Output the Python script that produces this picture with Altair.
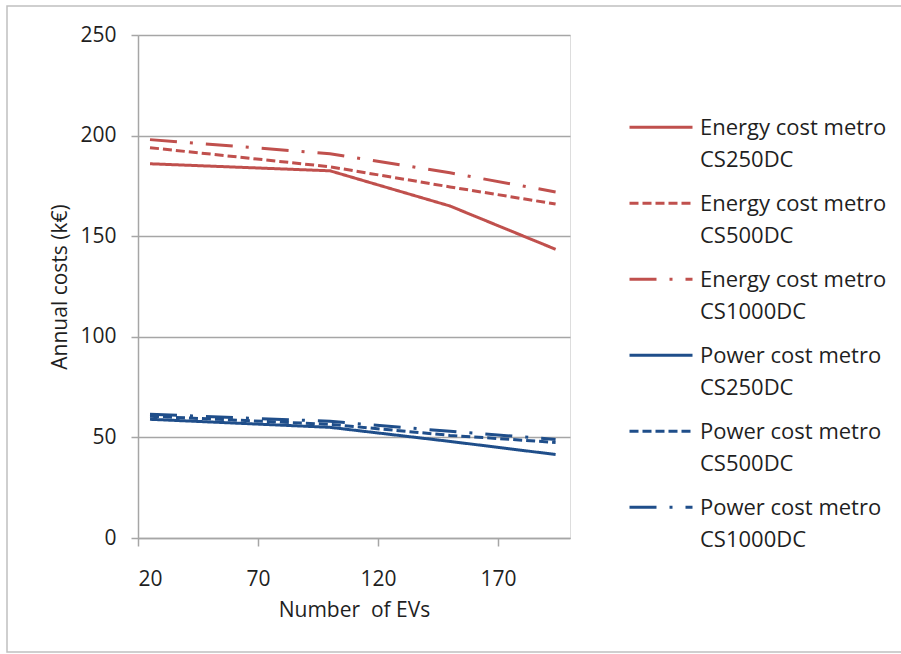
import altair as alt
import pandas as pd

# ---- data ----
evs = [25, 100, 150, 194]
energy_cs250 = [186, 182.5, 165, 143.5]
energy_cs500 = [194, 184.5, 174.5, 166]
energy_cs1000 = [198, 191, 181.5, 172]
power_cs250 = [59, 55, 48, 41.5]
power_cs500 = [60.5, 56.5, 51, 47.5]
power_cs1000 = [61.5, 58, 53, 49]

series_names = [
    "Energy cost metro CS250DC",
    "Energy cost metro CS500DC",
    "Energy cost metro CS1000DC",
    "Power cost metro CS250DC",
    "Power cost metro CS500DC",
    "Power cost metro CS1000DC",
]
series_values = [energy_cs250, energy_cs500, energy_cs1000,
                 power_cs250, power_cs500, power_cs1000]

y_ticks = [0, 50, 100, 150, 200, 250]
x_ticks = [20, 70, 120, 170]

RED = "#c0504d"
BLUE = "#1f4e8a"
colors = [RED, RED, RED, BLUE, BLUE, BLUE]
dashes = [[1, 0], [9, 4], [27, 13, 3, 13], [1, 0], [9, 4], [27, 13, 3, 13]]

rows = []
for name, vals in zip(series_names, series_values):
    for x, v in zip(evs, vals):
        rows.append({"series": name, "evs": x, "cost": v})
df = pd.DataFrame(rows)

FONT = "Open Sans"
GRID = "#a6a6a6"
TXT = "#1f1f1f"

lines = alt.Chart(df).mark_line(strokeWidth=3, strokeCap="butt").encode(
    x=alt.X(
        "evs:Q",
        scale=alt.Scale(domain=[20, 200], nice=False, zero=False),
        axis=alt.Axis(
            values=x_ticks, grid=False, title="Number\u00a0 of EVs",
            domainColor=GRID, domainWidth=1.5, tickColor=GRID, tickWidth=1.5,
            tickSize=8, labelFont=FONT, labelFontSize=21, labelColor=TXT,
            labelPadding=22, titleFont=FONT, titleFontSize=21,
            titleFontWeight="normal", titleColor=TXT, titlePadding=10,
        ),
    ),
    y=alt.Y(
        "cost:Q",
        scale=alt.Scale(domain=[0, 250], nice=False),
        axis=alt.Axis(
            values=y_ticks, grid=True, gridColor=GRID, gridWidth=1.5,
            title="Annual costs (k€)",
            domainColor=GRID, domainWidth=1.5, tickColor=GRID, tickWidth=1.5,
            tickSize=7, labelFont=FONT, labelFontSize=21, labelColor=TXT,
            labelPadding=15, titleFont=FONT, titleFontSize=21,
            titleFontWeight="normal", titleColor=TXT, titlePadding=9,
        ),
    ),
    color=alt.Color(
        "series:N",
        scale=alt.Scale(domain=series_names, range=colors),
        legend=alt.Legend(
            title=None, orient="none", legendX=490, legendY=67,
            symbolType="M-1,-0.25H1", symbolSize=3969, symbolStrokeWidth=3,
            labelFont=FONT, labelFontSize=22, labelColor=TXT, labelOffset=6,
            labelBaseline="alphabetic", labelLimit=400, rowPadding=7,
            labelExpr="[slice(datum.label, 0, lastindexof(datum.label, ' ')), slice(datum.label, lastindexof(datum.label, ' ') + 1)]",
        ),
    ),
    strokeDash=alt.StrokeDash(
        "series:N",
        scale=alt.Scale(domain=series_names, range=dashes),
        legend=None,
    ),
    detail="series:N",
)

border = alt.Chart(pd.DataFrame({"a": [0]})).mark_rect(
    filled=False, stroke="#c0c0c0", strokeWidth=1.5
).encode(
    x=alt.value(-131), x2=alt.value(770), y=alt.value(-29), y2=alt.value(617)
)

chart = alt.layer(border, lines).properties(
    width=432, height=503,
    padding={"left": 138, "top": 35, "right": 331, "bottom": 116},
    autosize=alt.AutoSizeParams(type="none"),
).configure_view(stroke=None).configure(
    background="white",
    style={"guide-label": {"lineHeight": 32}},
)

chart.save("out.html", embed_options={"renderer": "svg", "actions": False})
